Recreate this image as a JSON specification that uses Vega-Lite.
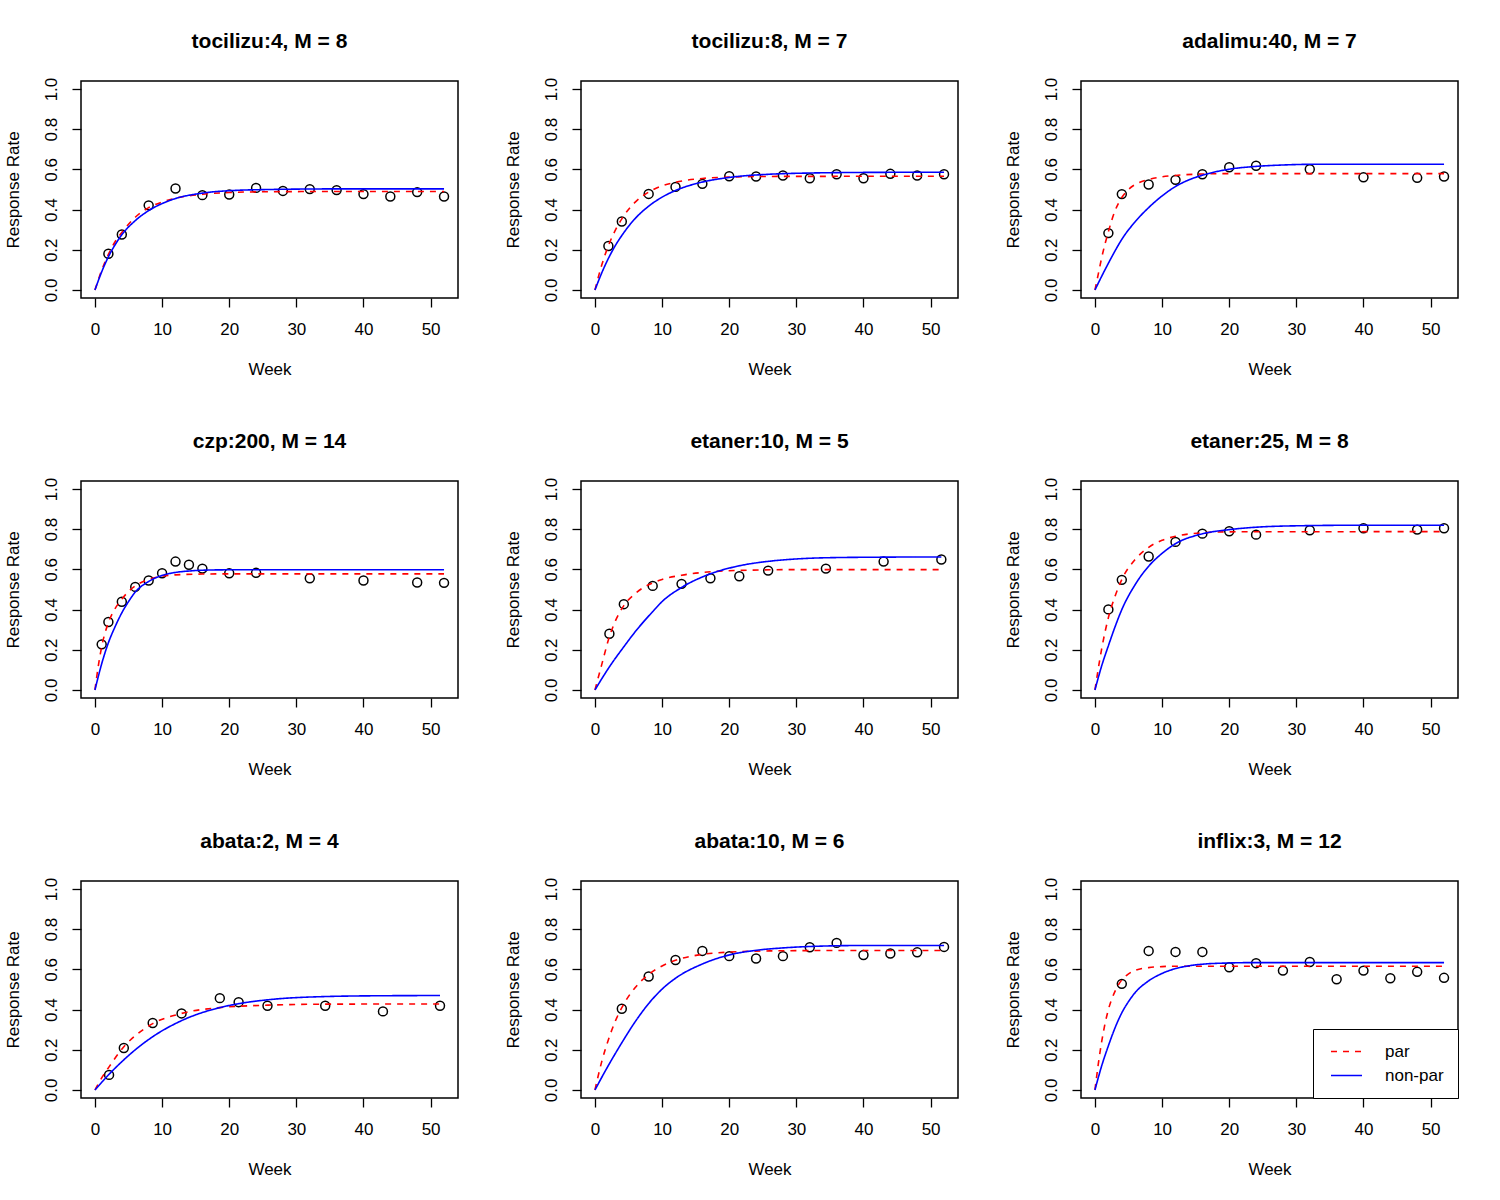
{
"$schema": "https://vega.github.io/schema/vega-lite/v6.json",
"background": "white",
"padding": {"left": 3, "top": 30, "right": 5, "bottom": 5},
"bounds": "flush",
"columns": 3,
"spacing": {"row": 183, "column": 123},
"datasets": {
"pts": [
{"p":"tocilizu:4","w":2,"r":0.18},{"p":"tocilizu:4","w":4,"r":0.276},{"p":"tocilizu:4","w":8,"r":0.421},{"p":"tocilizu:4","w":12,"r":0.505},{"p":"tocilizu:4","w":16,"r":0.472},{"p":"tocilizu:4","w":20,"r":0.475},{"p":"tocilizu:4","w":24,"r":0.508},{"p":"tocilizu:4","w":28,"r":0.493},{"p":"tocilizu:4","w":32,"r":0.502},{"p":"tocilizu:4","w":36,"r":0.497},{"p":"tocilizu:4","w":40,"r":0.477},{"p":"tocilizu:4","w":44,"r":0.465},{"p":"tocilizu:4","w":48,"r":0.487},{"p":"tocilizu:4","w":52,"r":0.465},
{"p":"tocilizu:8","w":2,"r":0.219},{"p":"tocilizu:8","w":4,"r":0.341},{"p":"tocilizu:8","w":8,"r":0.478},{"p":"tocilizu:8","w":12,"r":0.513},{"p":"tocilizu:8","w":16,"r":0.528},{"p":"tocilizu:8","w":20,"r":0.566},{"p":"tocilizu:8","w":24,"r":0.565},{"p":"tocilizu:8","w":28,"r":0.57},{"p":"tocilizu:8","w":32,"r":0.556},{"p":"tocilizu:8","w":36,"r":0.576},{"p":"tocilizu:8","w":40,"r":0.556},{"p":"tocilizu:8","w":44,"r":0.578},{"p":"tocilizu:8","w":48,"r":0.57},{"p":"tocilizu:8","w":52,"r":0.576},
{"p":"adalimu:40","w":2,"r":0.283},{"p":"adalimu:40","w":4,"r":0.477},{"p":"adalimu:40","w":8,"r":0.525},{"p":"adalimu:40","w":12,"r":0.548},{"p":"adalimu:40","w":16,"r":0.576},{"p":"adalimu:40","w":20,"r":0.611},{"p":"adalimu:40","w":24,"r":0.618},{"p":"adalimu:40","w":32,"r":0.601},{"p":"adalimu:40","w":40,"r":0.561},{"p":"adalimu:40","w":48,"r":0.558},{"p":"adalimu:40","w":52,"r":0.565},
{"p":"czp:200","w":1,"r":0.227},{"p":"czp:200","w":2,"r":0.338},{"p":"czp:200","w":4,"r":0.439},{"p":"czp:200","w":6,"r":0.513},{"p":"czp:200","w":8,"r":0.545},{"p":"czp:200","w":10,"r":0.581},{"p":"czp:200","w":12,"r":0.639},{"p":"czp:200","w":14,"r":0.623},{"p":"czp:200","w":16,"r":0.604},{"p":"czp:200","w":20,"r":0.581},{"p":"czp:200","w":24,"r":0.583},{"p":"czp:200","w":32,"r":0.556},{"p":"czp:200","w":40,"r":0.545},{"p":"czp:200","w":48,"r":0.535},{"p":"czp:200","w":52,"r":0.533},
{"p":"etaner:10","w":2.15,"r":0.28},{"p":"etaner:10","w":4.3,"r":0.427},{"p":"etaner:10","w":8.6,"r":0.518},{"p":"etaner:10","w":12.9,"r":0.528},{"p":"etaner:10","w":17.2,"r":0.556},{"p":"etaner:10","w":21.5,"r":0.566},{"p":"etaner:10","w":25.8,"r":0.594},{"p":"etaner:10","w":34.4,"r":0.604},{"p":"etaner:10","w":43,"r":0.639},{"p":"etaner:10","w":51.6,"r":0.649},
{"p":"etaner:25","w":2,"r":0.401},{"p":"etaner:25","w":4,"r":0.548},{"p":"etaner:25","w":8,"r":0.664},{"p":"etaner:25","w":12,"r":0.737},{"p":"etaner:25","w":16,"r":0.778},{"p":"etaner:25","w":20,"r":0.79},{"p":"etaner:25","w":24,"r":0.773},{"p":"etaner:25","w":32,"r":0.795},{"p":"etaner:25","w":40,"r":0.805},{"p":"etaner:25","w":48,"r":0.798},{"p":"etaner:25","w":52,"r":0.805},
{"p":"abata:2","w":2.1,"r":0.075},{"p":"abata:2","w":4.3,"r":0.209},{"p":"abata:2","w":8.6,"r":0.333},{"p":"abata:2","w":12.9,"r":0.381},{"p":"abata:2","w":18.6,"r":0.457},{"p":"abata:2","w":21.4,"r":0.437},{"p":"abata:2","w":25.7,"r":0.419},{"p":"abata:2","w":34.3,"r":0.419},{"p":"abata:2","w":42.9,"r":0.391},{"p":"abata:2","w":51.4,"r":0.419},
{"p":"abata:10","w":4,"r":0.404},{"p":"abata:10","w":8,"r":0.565},{"p":"abata:10","w":12,"r":0.647},{"p":"abata:10","w":16,"r":0.692},{"p":"abata:10","w":20,"r":0.666},{"p":"abata:10","w":24,"r":0.654},{"p":"abata:10","w":28,"r":0.666},{"p":"abata:10","w":32,"r":0.71},{"p":"abata:10","w":36,"r":0.732},{"p":"abata:10","w":40,"r":0.672},{"p":"abata:10","w":44,"r":0.679},{"p":"abata:10","w":48,"r":0.685},{"p":"abata:10","w":52,"r":0.712},
{"p":"inflix:3","w":4,"r":0.528},{"p":"inflix:3","w":8,"r":0.692},{"p":"inflix:3","w":12,"r":0.687},{"p":"inflix:3","w":16,"r":0.687},{"p":"inflix:3","w":20,"r":0.611},{"p":"inflix:3","w":24,"r":0.631},{"p":"inflix:3","w":28,"r":0.594},{"p":"inflix:3","w":32,"r":0.637},{"p":"inflix:3","w":36,"r":0.551},{"p":"inflix:3","w":40,"r":0.594},{"p":"inflix:3","w":44,"r":0.556},{"p":"inflix:3","w":48,"r":0.588},{"p":"inflix:3","w":52,"r":0.558}
],
"cur": [
{"p":"tocilizu:4","m":"par","w":0,"r":0},{"p":"tocilizu:4","m":"par","w":1,"r":0.098},{"p":"tocilizu:4","m":"par","w":2,"r":0.177},{"p":"tocilizu:4","m":"par","w":3,"r":0.24},{"p":"tocilizu:4","m":"par","w":4,"r":0.286},{"p":"tocilizu:4","m":"par","w":6,"r":0.362},{"p":"tocilizu:4","m":"par","w":8,"r":0.41},{"p":"tocilizu:4","m":"par","w":10,"r":0.438},{"p":"tocilizu:4","m":"par","w":12,"r":0.457},{"p":"tocilizu:4","m":"par","w":16,"r":0.476},{"p":"tocilizu:4","m":"par","w":20,"r":0.485},{"p":"tocilizu:4","m":"par","w":26,"r":0.489},{"p":"tocilizu:4","m":"par","w":36,"r":0.49},{"p":"tocilizu:4","m":"par","w":52,"r":0.49},
{"p":"tocilizu:4","m":"non-par","w":0,"r":0},{"p":"tocilizu:4","m":"non-par","w":1,"r":0.09},{"p":"tocilizu:4","m":"non-par","w":2,"r":0.165},{"p":"tocilizu:4","m":"non-par","w":3,"r":0.225},{"p":"tocilizu:4","m":"non-par","w":4,"r":0.275},{"p":"tocilizu:4","m":"non-par","w":6,"r":0.345},{"p":"tocilizu:4","m":"non-par","w":8,"r":0.395},{"p":"tocilizu:4","m":"non-par","w":10,"r":0.43},{"p":"tocilizu:4","m":"non-par","w":12,"r":0.455},{"p":"tocilizu:4","m":"non-par","w":16,"r":0.482},{"p":"tocilizu:4","m":"non-par","w":20,"r":0.494},{"p":"tocilizu:4","m":"non-par","w":26,"r":0.5},{"p":"tocilizu:4","m":"non-par","w":36,"r":0.503},{"p":"tocilizu:4","m":"non-par","w":52,"r":0.503},
{"p":"tocilizu:8","m":"par","w":0,"r":0},{"p":"tocilizu:8","m":"par","w":1,"r":0.123},{"p":"tocilizu:8","m":"par","w":2,"r":0.22},{"p":"tocilizu:8","m":"par","w":3,"r":0.295},{"p":"tocilizu:8","m":"par","w":4,"r":0.354},{"p":"tocilizu:8","m":"par","w":6,"r":0.437},{"p":"tocilizu:8","m":"par","w":8,"r":0.487},{"p":"tocilizu:8","m":"par","w":10,"r":0.518},{"p":"tocilizu:8","m":"par","w":12,"r":0.536},{"p":"tocilizu:8","m":"par","w":16,"r":0.555},{"p":"tocilizu:8","m":"par","w":20,"r":0.562},{"p":"tocilizu:8","m":"par","w":26,"r":0.565},{"p":"tocilizu:8","m":"par","w":52,"r":0.566},
{"p":"tocilizu:8","m":"non-par","w":0,"r":0},{"p":"tocilizu:8","m":"non-par","w":1,"r":0.084},{"p":"tocilizu:8","m":"non-par","w":2,"r":0.157},{"p":"tocilizu:8","m":"non-par","w":3,"r":0.219},{"p":"tocilizu:8","m":"non-par","w":4,"r":0.271},{"p":"tocilizu:8","m":"non-par","w":6,"r":0.356},{"p":"tocilizu:8","m":"non-par","w":8,"r":0.417},{"p":"tocilizu:8","m":"non-par","w":10,"r":0.462},{"p":"tocilizu:8","m":"non-par","w":12,"r":0.495},{"p":"tocilizu:8","m":"non-par","w":16,"r":0.537},{"p":"tocilizu:8","m":"non-par","w":20,"r":0.56},{"p":"tocilizu:8","m":"non-par","w":26,"r":0.576},{"p":"tocilizu:8","m":"non-par","w":32,"r":0.582},{"p":"tocilizu:8","m":"non-par","w":40,"r":0.585},{"p":"tocilizu:8","m":"non-par","w":52,"r":0.586},
{"p":"adalimu:40","m":"par","w":0,"r":0},{"p":"adalimu:40","m":"par","w":0.5,"r":0.08},{"p":"adalimu:40","m":"par","w":1,"r":0.16},{"p":"adalimu:40","m":"par","w":2,"r":0.29},{"p":"adalimu:40","m":"par","w":3,"r":0.395},{"p":"adalimu:40","m":"par","w":4,"r":0.46},{"p":"adalimu:40","m":"par","w":5,"r":0.5},{"p":"adalimu:40","m":"par","w":6,"r":0.525},{"p":"adalimu:40","m":"par","w":8,"r":0.55},{"p":"adalimu:40","m":"par","w":10,"r":0.563},{"p":"adalimu:40","m":"par","w":12,"r":0.57},{"p":"adalimu:40","m":"par","w":16,"r":0.577},{"p":"adalimu:40","m":"par","w":20,"r":0.579},{"p":"adalimu:40","m":"par","w":52,"r":0.579},
{"p":"adalimu:40","m":"non-par","w":0,"r":0},{"p":"adalimu:40","m":"non-par","w":1,"r":0.068},{"p":"adalimu:40","m":"non-par","w":2,"r":0.133},{"p":"adalimu:40","m":"non-par","w":3,"r":0.195},{"p":"adalimu:40","m":"non-par","w":4,"r":0.252},{"p":"adalimu:40","m":"non-par","w":6,"r":0.34},{"p":"adalimu:40","m":"non-par","w":8,"r":0.41},{"p":"adalimu:40","m":"non-par","w":10,"r":0.468},{"p":"adalimu:40","m":"non-par","w":12,"r":0.515},{"p":"adalimu:40","m":"non-par","w":14,"r":0.548},{"p":"adalimu:40","m":"non-par","w":16,"r":0.571},{"p":"adalimu:40","m":"non-par","w":20,"r":0.601},{"p":"adalimu:40","m":"non-par","w":24,"r":0.615},{"p":"adalimu:40","m":"non-par","w":28,"r":0.622},{"p":"adalimu:40","m":"non-par","w":34,"r":0.626},{"p":"adalimu:40","m":"non-par","w":52,"r":0.626},
{"p":"czp:200","m":"par","w":0,"r":0},{"p":"czp:200","m":"par","w":0.5,"r":0.12},{"p":"czp:200","m":"par","w":1,"r":0.215},{"p":"czp:200","m":"par","w":2,"r":0.335},{"p":"czp:200","m":"par","w":3,"r":0.405},{"p":"czp:200","m":"par","w":4,"r":0.452},{"p":"czp:200","m":"par","w":5,"r":0.49},{"p":"czp:200","m":"par","w":6,"r":0.518},{"p":"czp:200","m":"par","w":8,"r":0.55},{"p":"czp:200","m":"par","w":10,"r":0.566},{"p":"czp:200","m":"par","w":12,"r":0.573},{"p":"czp:200","m":"par","w":16,"r":0.577},{"p":"czp:200","m":"par","w":20,"r":0.578},{"p":"czp:200","m":"par","w":52,"r":0.578},
{"p":"czp:200","m":"non-par","w":0,"r":0},{"p":"czp:200","m":"non-par","w":1,"r":0.13},{"p":"czp:200","m":"non-par","w":2,"r":0.235},{"p":"czp:200","m":"non-par","w":3,"r":0.315},{"p":"czp:200","m":"non-par","w":4,"r":0.384},{"p":"czp:200","m":"non-par","w":5,"r":0.44},{"p":"czp:200","m":"non-par","w":6,"r":0.487},{"p":"czp:200","m":"non-par","w":8,"r":0.54},{"p":"czp:200","m":"non-par","w":10,"r":0.57},{"p":"czp:200","m":"non-par","w":12,"r":0.585},{"p":"czp:200","m":"non-par","w":14,"r":0.592},{"p":"czp:200","m":"non-par","w":16,"r":0.596},{"p":"czp:200","m":"non-par","w":20,"r":0.598},{"p":"czp:200","m":"non-par","w":52,"r":0.598},
{"p":"etaner:10","m":"par","w":0,"r":0},{"p":"etaner:10","m":"par","w":1,"r":0.125},{"p":"etaner:10","m":"par","w":2.15,"r":0.265},{"p":"etaner:10","m":"par","w":3,"r":0.34},{"p":"etaner:10","m":"par","w":4.3,"r":0.42},{"p":"etaner:10","m":"par","w":6,"r":0.48},{"p":"etaner:10","m":"par","w":8.6,"r":0.533},{"p":"etaner:10","m":"par","w":10,"r":0.55},{"p":"etaner:10","m":"par","w":12.9,"r":0.571},{"p":"etaner:10","m":"par","w":17.2,"r":0.588},{"p":"etaner:10","m":"par","w":21.5,"r":0.595},{"p":"etaner:10","m":"par","w":30,"r":0.599},{"p":"etaner:10","m":"par","w":51.6,"r":0.599},
{"p":"etaner:10","m":"non-par","w":0,"r":0},{"p":"etaner:10","m":"non-par","w":1,"r":0.055},{"p":"etaner:10","m":"non-par","w":2.15,"r":0.115},{"p":"etaner:10","m":"non-par","w":4.3,"r":0.215},{"p":"etaner:10","m":"non-par","w":6,"r":0.29},{"p":"etaner:10","m":"non-par","w":8.6,"r":0.39},{"p":"etaner:10","m":"non-par","w":10,"r":0.44},{"p":"etaner:10","m":"non-par","w":12.9,"r":0.51},{"p":"etaner:10","m":"non-par","w":17.2,"r":0.578},{"p":"etaner:10","m":"non-par","w":21.5,"r":0.618},{"p":"etaner:10","m":"non-par","w":25.8,"r":0.64},{"p":"etaner:10","m":"non-par","w":30,"r":0.652},{"p":"etaner:10","m":"non-par","w":34.4,"r":0.658},{"p":"etaner:10","m":"non-par","w":43,"r":0.661},{"p":"etaner:10","m":"non-par","w":51.6,"r":0.662},
{"p":"etaner:25","m":"par","w":0,"r":0},{"p":"etaner:25","m":"par","w":1,"r":0.205},{"p":"etaner:25","m":"par","w":2,"r":0.36},{"p":"etaner:25","m":"par","w":3,"r":0.467},{"p":"etaner:25","m":"par","w":4,"r":0.55},{"p":"etaner:25","m":"par","w":6,"r":0.65},{"p":"etaner:25","m":"par","w":8,"r":0.71},{"p":"etaner:25","m":"par","w":10,"r":0.745},{"p":"etaner:25","m":"par","w":12,"r":0.765},{"p":"etaner:25","m":"par","w":16,"r":0.782},{"p":"etaner:25","m":"par","w":20,"r":0.787},{"p":"etaner:25","m":"par","w":52,"r":0.788},
{"p":"etaner:25","m":"non-par","w":0,"r":0},{"p":"etaner:25","m":"non-par","w":1,"r":0.12},{"p":"etaner:25","m":"non-par","w":2,"r":0.22},{"p":"etaner:25","m":"non-par","w":3,"r":0.315},{"p":"etaner:25","m":"non-par","w":4,"r":0.4},{"p":"etaner:25","m":"non-par","w":6,"r":0.525},{"p":"etaner:25","m":"non-par","w":8,"r":0.616},{"p":"etaner:25","m":"non-par","w":10,"r":0.68},{"p":"etaner:25","m":"non-par","w":12,"r":0.728},{"p":"etaner:25","m":"non-par","w":16,"r":0.777},{"p":"etaner:25","m":"non-par","w":20,"r":0.798},{"p":"etaner:25","m":"non-par","w":24,"r":0.81},{"p":"etaner:25","m":"non-par","w":30,"r":0.817},{"p":"etaner:25","m":"non-par","w":40,"r":0.82},{"p":"etaner:25","m":"non-par","w":52,"r":0.82},
{"p":"abata:2","m":"par","w":0,"r":0},{"p":"abata:2","m":"par","w":1,"r":0.06},{"p":"abata:2","m":"par","w":2.1,"r":0.115},{"p":"abata:2","m":"par","w":4.3,"r":0.215},{"p":"abata:2","m":"par","w":6,"r":0.27},{"p":"abata:2","m":"par","w":8.6,"r":0.33},{"p":"abata:2","m":"par","w":12.9,"r":0.381},{"p":"abata:2","m":"par","w":18.6,"r":0.41},{"p":"abata:2","m":"par","w":25.8,"r":0.422},{"p":"abata:2","m":"par","w":34.4,"r":0.427},{"p":"abata:2","m":"par","w":51.4,"r":0.428},
{"p":"abata:2","m":"non-par","w":0,"r":0},{"p":"abata:2","m":"non-par","w":1,"r":0.038},{"p":"abata:2","m":"non-par","w":2.1,"r":0.078},{"p":"abata:2","m":"non-par","w":4.3,"r":0.15},{"p":"abata:2","m":"non-par","w":6,"r":0.2},{"p":"abata:2","m":"non-par","w":8.6,"r":0.265},{"p":"abata:2","m":"non-par","w":12.9,"r":0.345},{"p":"abata:2","m":"non-par","w":18.6,"r":0.41},{"p":"abata:2","m":"non-par","w":21.5,"r":0.43},{"p":"abata:2","m":"non-par","w":25.8,"r":0.449},{"p":"abata:2","m":"non-par","w":34.4,"r":0.465},{"p":"abata:2","m":"non-par","w":43,"r":0.469},{"p":"abata:2","m":"non-par","w":51.4,"r":0.47},
{"p":"abata:10","m":"par","w":0,"r":0},{"p":"abata:10","m":"par","w":1,"r":0.14},{"p":"abata:10","m":"par","w":2,"r":0.25},{"p":"abata:10","m":"par","w":3,"r":0.34},{"p":"abata:10","m":"par","w":4,"r":0.41},{"p":"abata:10","m":"par","w":6,"r":0.51},{"p":"abata:10","m":"par","w":8,"r":0.575},{"p":"abata:10","m":"par","w":10,"r":0.617},{"p":"abata:10","m":"par","w":12,"r":0.645},{"p":"abata:10","m":"par","w":16,"r":0.675},{"p":"abata:10","m":"par","w":20,"r":0.686},{"p":"abata:10","m":"par","w":26,"r":0.692},{"p":"abata:10","m":"par","w":36,"r":0.694},{"p":"abata:10","m":"par","w":52,"r":0.694},
{"p":"abata:10","m":"non-par","w":0,"r":0},{"p":"abata:10","m":"non-par","w":1,"r":0.062},{"p":"abata:10","m":"non-par","w":2,"r":0.122},{"p":"abata:10","m":"non-par","w":4,"r":0.235},{"p":"abata:10","m":"non-par","w":6,"r":0.34},{"p":"abata:10","m":"non-par","w":8,"r":0.43},{"p":"abata:10","m":"non-par","w":10,"r":0.502},{"p":"abata:10","m":"non-par","w":12,"r":0.556},{"p":"abata:10","m":"non-par","w":16,"r":0.627},{"p":"abata:10","m":"non-par","w":20,"r":0.672},{"p":"abata:10","m":"non-par","w":24,"r":0.695},{"p":"abata:10","m":"non-par","w":28,"r":0.707},{"p":"abata:10","m":"non-par","w":32,"r":0.714},{"p":"abata:10","m":"non-par","w":40,"r":0.719},{"p":"abata:10","m":"non-par","w":52,"r":0.719},
{"p":"inflix:3","m":"par","w":0,"r":0},{"p":"inflix:3","m":"par","w":0.5,"r":0.13},{"p":"inflix:3","m":"par","w":1,"r":0.24},{"p":"inflix:3","m":"par","w":1.5,"r":0.33},{"p":"inflix:3","m":"par","w":2,"r":0.4},{"p":"inflix:3","m":"par","w":3,"r":0.492},{"p":"inflix:3","m":"par","w":4,"r":0.548},{"p":"inflix:3","m":"par","w":5,"r":0.578},{"p":"inflix:3","m":"par","w":6,"r":0.595},{"p":"inflix:3","m":"par","w":8,"r":0.609},{"p":"inflix:3","m":"par","w":10,"r":0.614},{"p":"inflix:3","m":"par","w":12,"r":0.616},{"p":"inflix:3","m":"par","w":52,"r":0.616},
{"p":"inflix:3","m":"non-par","w":0,"r":0},{"p":"inflix:3","m":"non-par","w":1,"r":0.12},{"p":"inflix:3","m":"non-par","w":2,"r":0.22},{"p":"inflix:3","m":"non-par","w":3,"r":0.31},{"p":"inflix:3","m":"non-par","w":4,"r":0.384},{"p":"inflix:3","m":"non-par","w":5,"r":0.44},{"p":"inflix:3","m":"non-par","w":6,"r":0.485},{"p":"inflix:3","m":"non-par","w":8,"r":0.543},{"p":"inflix:3","m":"non-par","w":10,"r":0.58},{"p":"inflix:3","m":"non-par","w":12,"r":0.604},{"p":"inflix:3","m":"non-par","w":14,"r":0.618},{"p":"inflix:3","m":"non-par","w":16,"r":0.626},{"p":"inflix:3","m":"non-par","w":20,"r":0.632},{"p":"inflix:3","m":"non-par","w":24,"r":0.634},{"p":"inflix:3","m":"non-par","w":52,"r":0.634}
]
},
"concat": [
{"title": "tocilizu:4, M = 8", "width": 377, "height": 217, "layer": [
 {"data": {"name": "pts"}, "transform": [{"filter": "datum.p === 'tocilizu:4'"}], "mark": {"type": "point", "shape": "circle", "filled": false, "color": "black", "opacity": 1, "strokeWidth": 1.5, "size": 80},
  "encoding": {"x": {"field": "w", "type": "quantitative", "scale": {"domain": [-2.08, 54.08], "nice": false, "zero": false}, "axis": {"values": [0,10,20,30,40,50], "title": "Week"}},
   "y": {"field": "r", "type": "quantitative", "scale": {"domain": [-0.04, 1.04], "nice": false, "zero": false}, "axis": {"values": [0,0.2,0.4,0.6,0.8,1], "format": ".1f", "title": "Response Rate"}}}},
 {"data": {"name": "cur"}, "transform": [{"filter": "datum.p === 'tocilizu:4'"}], "mark": {"type": "line", "interpolate": "monotone", "strokeWidth": 1.6},
  "encoding": {"x": {"field": "w", "type": "quantitative"}, "y": {"field": "r", "type": "quantitative"},
   "color": {"field": "m", "type": "nominal", "scale": {"domain": ["par","non-par"], "range": ["#FF0000","#0000FF"]}, "legend": null},
   "strokeDash": {"field": "m", "type": "nominal", "scale": {"domain": ["par","non-par"], "range": [[6,6],[1,0]]}, "legend": null}}}
]},
{"title": "tocilizu:8, M = 7", "width": 377, "height": 217, "layer": [
 {"data": {"name": "pts"}, "transform": [{"filter": "datum.p === 'tocilizu:8'"}], "mark": {"type": "point", "shape": "circle", "filled": false, "color": "black", "opacity": 1, "strokeWidth": 1.5, "size": 80},
  "encoding": {"x": {"field": "w", "type": "quantitative", "scale": {"domain": [-2.08, 54.08], "nice": false, "zero": false}, "axis": {"values": [0,10,20,30,40,50], "title": "Week"}},
   "y": {"field": "r", "type": "quantitative", "scale": {"domain": [-0.04, 1.04], "nice": false, "zero": false}, "axis": {"values": [0,0.2,0.4,0.6,0.8,1], "format": ".1f", "title": "Response Rate"}}}},
 {"data": {"name": "cur"}, "transform": [{"filter": "datum.p === 'tocilizu:8'"}], "mark": {"type": "line", "interpolate": "monotone", "strokeWidth": 1.6},
  "encoding": {"x": {"field": "w", "type": "quantitative"}, "y": {"field": "r", "type": "quantitative"},
   "color": {"field": "m", "type": "nominal", "scale": {"domain": ["par","non-par"], "range": ["#FF0000","#0000FF"]}, "legend": null},
   "strokeDash": {"field": "m", "type": "nominal", "scale": {"domain": ["par","non-par"], "range": [[6,6],[1,0]]}, "legend": null}}}
]},
{"title": "adalimu:40, M = 7", "width": 377, "height": 217, "layer": [
 {"data": {"name": "pts"}, "transform": [{"filter": "datum.p === 'adalimu:40'"}], "mark": {"type": "point", "shape": "circle", "filled": false, "color": "black", "opacity": 1, "strokeWidth": 1.5, "size": 80},
  "encoding": {"x": {"field": "w", "type": "quantitative", "scale": {"domain": [-2.08, 54.08], "nice": false, "zero": false}, "axis": {"values": [0,10,20,30,40,50], "title": "Week"}},
   "y": {"field": "r", "type": "quantitative", "scale": {"domain": [-0.04, 1.04], "nice": false, "zero": false}, "axis": {"values": [0,0.2,0.4,0.6,0.8,1], "format": ".1f", "title": "Response Rate"}}}},
 {"data": {"name": "cur"}, "transform": [{"filter": "datum.p === 'adalimu:40'"}], "mark": {"type": "line", "interpolate": "monotone", "strokeWidth": 1.6},
  "encoding": {"x": {"field": "w", "type": "quantitative"}, "y": {"field": "r", "type": "quantitative"},
   "color": {"field": "m", "type": "nominal", "scale": {"domain": ["par","non-par"], "range": ["#FF0000","#0000FF"]}, "legend": null},
   "strokeDash": {"field": "m", "type": "nominal", "scale": {"domain": ["par","non-par"], "range": [[6,6],[1,0]]}, "legend": null}}}
]},
{"title": "czp:200, M = 14", "width": 377, "height": 217, "layer": [
 {"data": {"name": "pts"}, "transform": [{"filter": "datum.p === 'czp:200'"}], "mark": {"type": "point", "shape": "circle", "filled": false, "color": "black", "opacity": 1, "strokeWidth": 1.5, "size": 80},
  "encoding": {"x": {"field": "w", "type": "quantitative", "scale": {"domain": [-2.08, 54.08], "nice": false, "zero": false}, "axis": {"values": [0,10,20,30,40,50], "title": "Week"}},
   "y": {"field": "r", "type": "quantitative", "scale": {"domain": [-0.04, 1.04], "nice": false, "zero": false}, "axis": {"values": [0,0.2,0.4,0.6,0.8,1], "format": ".1f", "title": "Response Rate"}}}},
 {"data": {"name": "cur"}, "transform": [{"filter": "datum.p === 'czp:200'"}], "mark": {"type": "line", "interpolate": "monotone", "strokeWidth": 1.6},
  "encoding": {"x": {"field": "w", "type": "quantitative"}, "y": {"field": "r", "type": "quantitative"},
   "color": {"field": "m", "type": "nominal", "scale": {"domain": ["par","non-par"], "range": ["#FF0000","#0000FF"]}, "legend": null},
   "strokeDash": {"field": "m", "type": "nominal", "scale": {"domain": ["par","non-par"], "range": [[6,6],[1,0]]}, "legend": null}}}
]},
{"title": "etaner:10, M = 5", "width": 377, "height": 217, "layer": [
 {"data": {"name": "pts"}, "transform": [{"filter": "datum.p === 'etaner:10'"}], "mark": {"type": "point", "shape": "circle", "filled": false, "color": "black", "opacity": 1, "strokeWidth": 1.5, "size": 80},
  "encoding": {"x": {"field": "w", "type": "quantitative", "scale": {"domain": [-2.08, 54.08], "nice": false, "zero": false}, "axis": {"values": [0,10,20,30,40,50], "title": "Week"}},
   "y": {"field": "r", "type": "quantitative", "scale": {"domain": [-0.04, 1.04], "nice": false, "zero": false}, "axis": {"values": [0,0.2,0.4,0.6,0.8,1], "format": ".1f", "title": "Response Rate"}}}},
 {"data": {"name": "cur"}, "transform": [{"filter": "datum.p === 'etaner:10'"}], "mark": {"type": "line", "interpolate": "monotone", "strokeWidth": 1.6},
  "encoding": {"x": {"field": "w", "type": "quantitative"}, "y": {"field": "r", "type": "quantitative"},
   "color": {"field": "m", "type": "nominal", "scale": {"domain": ["par","non-par"], "range": ["#FF0000","#0000FF"]}, "legend": null},
   "strokeDash": {"field": "m", "type": "nominal", "scale": {"domain": ["par","non-par"], "range": [[6,6],[1,0]]}, "legend": null}}}
]},
{"title": "etaner:25, M = 8", "width": 377, "height": 217, "layer": [
 {"data": {"name": "pts"}, "transform": [{"filter": "datum.p === 'etaner:25'"}], "mark": {"type": "point", "shape": "circle", "filled": false, "color": "black", "opacity": 1, "strokeWidth": 1.5, "size": 80},
  "encoding": {"x": {"field": "w", "type": "quantitative", "scale": {"domain": [-2.08, 54.08], "nice": false, "zero": false}, "axis": {"values": [0,10,20,30,40,50], "title": "Week"}},
   "y": {"field": "r", "type": "quantitative", "scale": {"domain": [-0.04, 1.04], "nice": false, "zero": false}, "axis": {"values": [0,0.2,0.4,0.6,0.8,1], "format": ".1f", "title": "Response Rate"}}}},
 {"data": {"name": "cur"}, "transform": [{"filter": "datum.p === 'etaner:25'"}], "mark": {"type": "line", "interpolate": "monotone", "strokeWidth": 1.6},
  "encoding": {"x": {"field": "w", "type": "quantitative"}, "y": {"field": "r", "type": "quantitative"},
   "color": {"field": "m", "type": "nominal", "scale": {"domain": ["par","non-par"], "range": ["#FF0000","#0000FF"]}, "legend": null},
   "strokeDash": {"field": "m", "type": "nominal", "scale": {"domain": ["par","non-par"], "range": [[6,6],[1,0]]}, "legend": null}}}
]},
{"title": "abata:2, M = 4", "width": 377, "height": 217, "layer": [
 {"data": {"name": "pts"}, "transform": [{"filter": "datum.p === 'abata:2'"}], "mark": {"type": "point", "shape": "circle", "filled": false, "color": "black", "opacity": 1, "strokeWidth": 1.5, "size": 80},
  "encoding": {"x": {"field": "w", "type": "quantitative", "scale": {"domain": [-2.08, 54.08], "nice": false, "zero": false}, "axis": {"values": [0,10,20,30,40,50], "title": "Week"}},
   "y": {"field": "r", "type": "quantitative", "scale": {"domain": [-0.04, 1.04], "nice": false, "zero": false}, "axis": {"values": [0,0.2,0.4,0.6,0.8,1], "format": ".1f", "title": "Response Rate"}}}},
 {"data": {"name": "cur"}, "transform": [{"filter": "datum.p === 'abata:2'"}], "mark": {"type": "line", "interpolate": "monotone", "strokeWidth": 1.6},
  "encoding": {"x": {"field": "w", "type": "quantitative"}, "y": {"field": "r", "type": "quantitative"},
   "color": {"field": "m", "type": "nominal", "scale": {"domain": ["par","non-par"], "range": ["#FF0000","#0000FF"]}, "legend": null},
   "strokeDash": {"field": "m", "type": "nominal", "scale": {"domain": ["par","non-par"], "range": [[6,6],[1,0]]}, "legend": null}}}
]},
{"title": "abata:10, M = 6", "width": 377, "height": 217, "layer": [
 {"data": {"name": "pts"}, "transform": [{"filter": "datum.p === 'abata:10'"}], "mark": {"type": "point", "shape": "circle", "filled": false, "color": "black", "opacity": 1, "strokeWidth": 1.5, "size": 80},
  "encoding": {"x": {"field": "w", "type": "quantitative", "scale": {"domain": [-2.08, 54.08], "nice": false, "zero": false}, "axis": {"values": [0,10,20,30,40,50], "title": "Week"}},
   "y": {"field": "r", "type": "quantitative", "scale": {"domain": [-0.04, 1.04], "nice": false, "zero": false}, "axis": {"values": [0,0.2,0.4,0.6,0.8,1], "format": ".1f", "title": "Response Rate"}}}},
 {"data": {"name": "cur"}, "transform": [{"filter": "datum.p === 'abata:10'"}], "mark": {"type": "line", "interpolate": "monotone", "strokeWidth": 1.6},
  "encoding": {"x": {"field": "w", "type": "quantitative"}, "y": {"field": "r", "type": "quantitative"},
   "color": {"field": "m", "type": "nominal", "scale": {"domain": ["par","non-par"], "range": ["#FF0000","#0000FF"]}, "legend": null},
   "strokeDash": {"field": "m", "type": "nominal", "scale": {"domain": ["par","non-par"], "range": [[6,6],[1,0]]}, "legend": null}}}
]},
{"title": "inflix:3, M = 12", "width": 377, "height": 217, "layer": [
 {"data": {"name": "pts"}, "transform": [{"filter": "datum.p === 'inflix:3'"}], "mark": {"type": "point", "shape": "circle", "filled": false, "color": "black", "opacity": 1, "strokeWidth": 1.5, "size": 80},
  "encoding": {"x": {"field": "w", "type": "quantitative", "scale": {"domain": [-2.08, 54.08], "nice": false, "zero": false}, "axis": {"values": [0,10,20,30,40,50], "title": "Week"}},
   "y": {"field": "r", "type": "quantitative", "scale": {"domain": [-0.04, 1.04], "nice": false, "zero": false}, "axis": {"values": [0,0.2,0.4,0.6,0.8,1], "format": ".1f", "title": "Response Rate"}}}},
 {"data": {"name": "cur"}, "transform": [{"filter": "datum.p === 'inflix:3'"}], "mark": {"type": "line", "interpolate": "monotone", "strokeWidth": 1.6},
  "encoding": {"x": {"field": "w", "type": "quantitative"}, "y": {"field": "r", "type": "quantitative"},
   "color": {"field": "m", "type": "nominal", "scale": {"domain": ["par","non-par"], "range": ["#FF0000","#0000FF"]},
     "legend": {"orient": "bottom-right", "offset": 0, "title": null, "strokeColor": "black", "fillColor": "white", "padding": 14, "symbolType": "stroke", "symbolSize": 961, "symbolStrokeWidth": 1.6, "symbolOffset": 3, "labelFontSize": 17, "labelFont": "Liberation Sans", "labelColor": "black", "labelOffset": 22, "rowPadding": 6, "clipHeight": 17}},
   "strokeDash": {"field": "m", "type": "nominal", "scale": {"domain": ["par","non-par"], "range": [[6,6],[1,0]]}}}}
]}
],
"resolve": {"scale": {"color": "independent", "strokeDash": "independent"}, "legend": {"color": "independent", "strokeDash": "independent"}},
"config": {
 "view": {"stroke": "black", "strokeWidth": 1.5},
 "font": "Liberation Sans",
 "title": {"font": "Liberation Sans", "fontSize": 21, "fontWeight": "bold", "color": "black", "anchor": "middle", "frame": "group", "baseline": "alphabetic", "offset": 25},
 "axis": {"domain": false, "grid": false, "tickColor": "black", "tickWidth": 1.3, "tickSize": 9, "labelColor": "black", "labelFont": "Liberation Sans", "labelFontSize": 17, "titleFont": "Liberation Sans", "titleFontSize": 17, "titleFontWeight": "normal", "titleColor": "black", "labelFlush": false, "labelOverlap": false},
 "axisX": {"labelPadding": 14, "titleY": 76, "titleBaseline": "alphabetic"},
 "axisY": {"labelAngle": -90, "labelAlign": "center", "labelBaseline": "alphabetic", "labelPadding": 16, "titleAngle": -90, "titleX": -63, "titleBaseline": "alphabetic", "titleAlign": "center"}
}
}
